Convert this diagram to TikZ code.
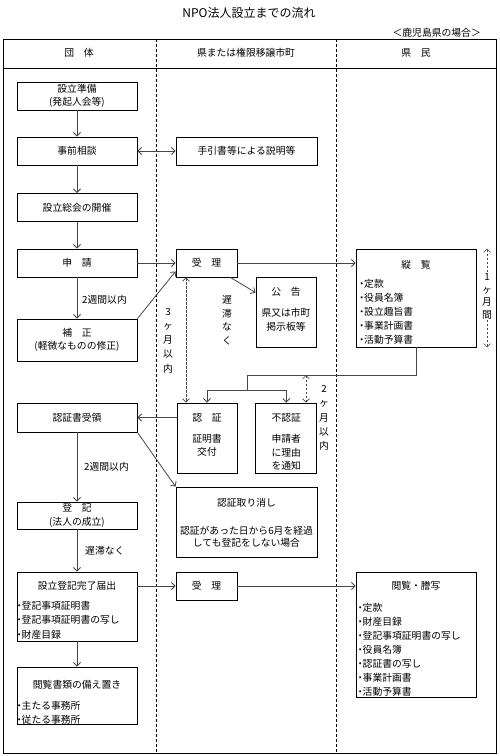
\documentclass[tikz,border=0pt]{standalone}
\usepackage{fontspec}
\setmainfont{Noto Sans CJK JP}
\usepackage{tikz}
\usetikzlibrary{arrows.meta}
\definecolor{lineGray}{RGB}{70,70,70}
\newcommand{\bul}{\makebox[5pt][c]{・}}

\begin{document}
\begin{tikzpicture}[x=1pt,y=-1pt,
  box/.style={draw=black, line width=0.9pt, minimum width=120pt, minimum height=28pt,
    inner sep=0pt, align=center, font=\fontsize{9.8}{13.5}\selectfont},
  txt/.style={inner sep=0pt, font=\fontsize{9.8}{13.5}\selectfont, text height=8pt, text depth=1pt},
  item/.style={txt, anchor=west},
  flow/.style={draw=lineGray, line width=0.8pt, -{Straight Barb[length=3.5pt,width=7pt]}},
  both/.style={flow, {Straight Barb[length=3.5pt,width=7pt]}-{Straight Barb[length=3.5pt,width=7pt]}},
  kikan/.style={both, line width=0.6pt, dash pattern=on 2.5pt off 1.5pt},
  kikanend/.style={flow, line width=0.6pt, dash pattern=on 2.5pt off 1.5pt}]
\useasboundingbox (0,0) rectangle (499,756);

% frame and columns
\draw[line width=0.9pt] (3,39) rectangle (496,753);
\draw[line width=0.9pt] (3,68) -- (496,68);
\draw[line width=0.7pt, dash pattern=on 3pt off 2pt] (156,39) -- (156,753);
\draw[line width=0.7pt, dash pattern=on 3pt off 2pt] (336,39) -- (336,753);

\node[font=\fontsize{12}{14}\selectfont, inner sep=0pt] (title) at (249,13) {NPO法人設立までの流れ};
\node[item, anchor=east] (case) at (481,33) {＜鹿児島県の場合＞};
\node[txt] (hDantai) at (79,53) {団　体};
\node[txt] (hKen) at (246,53) {県または権限移譲市町};
\node[txt] (hKenmin) at (416,53) {県　民};

% left column
\node[box] (junbi) at (77,96) {設立準備\\(発起人会等)};
\node[box] (jizen) at (77,151) {事前相談};
\node[box] (soukai) at (77,207.5) {設立総会の開催};
\node[box] (shinsei) at (77,263) {申　請};
\node[box, minimum height=42pt] (hosei) at (77,340) {補　正\\(軽微なものの修正)};
\node[box, minimum height=29pt] (juryo) at (77,417.5) {認証書受領};
\node[box, minimum height=27pt] (touki) at (77,515.5) {登　記\\(法人の成立)};
\node[box, minimum height=69pt] (kanryo) at (77,606.5) {};
\node[txt] (kanryoT) at (77,586) {設立登記完了届出};
\foreach \t [count=\i] in {登記事項証明書,登記事項証明書の写し,財産目録}
  \node[item] (kanryo-\i) at (16.5,591+14.5*\i) {\bul\t};
\node[box, minimum height=57pt] (sonae) at (77,695.5) {};
\node[txt] (sonaeT) at (77,685) {閲覧書類の備え置き};
\foreach \t [count=\i] in {主たる事務所,従たる事務所}
  \node[item] (sonae-\i) at (16.5,692.5+13.5*\i) {\bul\t};

% middle column
\node[box, minimum width=141pt] (tebiki) at (246.5,151) {手引書等による説明等};
\node[box, minimum width=61pt] (juri1) at (206.5,263) {受　理};
\node[box, minimum width=60pt, minimum height=70pt] (koukoku) at (286,312) {};
\node[txt] (koukokuT) at (286,292) {公　告};
\node[txt] (koukoku-1) at (286,313) {県又は市町};
\node[txt] (koukoku-2) at (286,326.7) {掲示板等};
\node[box, minimum width=60pt, minimum height=70pt] (ninsho) at (207,438) {};
\node[txt] (ninshoT) at (207,418) {認　証};
\node[txt] (ninsho-1) at (207,439) {証明書};
\node[txt] (ninsho-2) at (207,452) {交付};
\node[box, minimum width=61pt, minimum height=70pt] (funinsho) at (286.3,438) {};
\node[txt] (funinshoT) at (286.3,418) {不認証};
\foreach \t [count=\i] in {申請者,に理由,を通知}
  \node[txt] (funinsho-\i) at (286.3,425.5+13.5*\i) {\t};
\node[box, minimum width=141pt, minimum height=70pt] (torikeshi) at (246.5,522) {};
\node[txt] (torikeshiT) at (246.5,503.3) {認証取り消し};
\node[txt] (torikeshi-1) at (246.5,531) {認証があった日から6月を経過};
\node[txt] (torikeshi-2) at (246.5,543) {しても登記をしない場合};
\node[box, minimum width=61pt] (juri2) at (206.5,586) {受　理};

% right column
\node[box, minimum height=98pt] (juran) at (416,298) {};
\node[txt] (juranT) at (416,265) {縦　覧};
\foreach \t [count=\i] in {定款,役員名簿,設立趣旨書,事業計画書,活動予算書}
  \node[item] (juran-\i) at (359,270+14*\i) {\bul\t};
\node[box, minimum height=125pt] (etsuran) at (416,634.5) {};
\node[txt] (etsuranT) at (416,586) {閲覧・謄写};
\foreach \t [count=\i] in {定款,財産目録,登記事項証明書の写し,役員名簿,認証書の写し,事業計画書,活動予算書}
  \node[item] (etsuran-\i) at (357.5,593.7+14*\i) {\bul\t};

% labels
\node[item] (shuukan1) at (82,300) {2週間以内};
\node[item] (shuukan2) at (84,467) {2週間以内};
\node[item] (chitai) at (85,551) {遅滞なく};
\foreach \c [count=\i] in {遅,滞,な,く}
  \node[txt] (chitai-\i) at (227,286.5+13.5*\i) {\c};
\foreach \c [count=\i] in {3,ヶ,月,以,内}
  \node[txt] (san-\i) at (168,297.5+14.2*\i) {\c};
\foreach \c [count=\i] in {2,ヶ,月,以,内}
  \node[txt] (ni-\i) at (324,375+14.2*\i) {\c};
\foreach \c [count=\i] in {1,ヶ,月,間}
  \node[txt] (ikka-\i) at (487,264+12.8*\i) {\c};

% connectors
\draw[flow] (junbi) -- (jizen);
\draw[flow] (jizen) -- (soukai);
\draw[flow] (soukai) -- (shinsei);
\draw[both] (jizen) -- (tebiki);
\draw[flow] (shinsei) -- (juri1);
\draw[flow] (shinsei) -- (hosei);
\draw[flow] (hosei.north east) -- ([yshift=6pt]juri1.south west);
\draw[flow] (juri1.east) -- (juri1.east -| juran.west);
\draw[flow] ([xshift=-7pt]juri1.south east) -- ([yshift=-16pt]koukoku.north west);
\draw[kikan] ([xshift=-20.5pt]juri1.south) -- ([xshift=-20.5pt]juri1.south |- ninsho.north);
\coordinate (bend) at (247,375);
\draw[draw=lineGray, line width=0.8pt] (juran.south) |- (bend) -- ++(0,15) coordinate (split);
\draw[flow] (split) -| (ninsho.north);
\draw[flow] (split) -| (funinsho.north);
\coordinate (twoTop) at (306,375);
\draw[kikan] (twoTop) -- (twoTop |- funinsho.north);
\draw[kikanend] (ikka-1.north) -- (ikka-1 |- juran.north);
\draw[kikanend] (ikka-4.south) -- (ikka-4 |- juran.south);
\draw[flow] (ninsho.west |- juryo.east) -- (juryo.east);
\draw[flow] (juryo.south east) -- (torikeshi.north west);
\draw[flow] (juryo) -- (touki);
\draw[flow] (touki) -- (kanryo);
\draw[flow] (kanryo) -- (sonae);
\draw[flow] (kanryo.east |- juri2.west) -- (juri2.west);
\draw[flow] (juri2.east) -- (juri2.east -| etsuran.west);
\end{tikzpicture}
\end{document}
